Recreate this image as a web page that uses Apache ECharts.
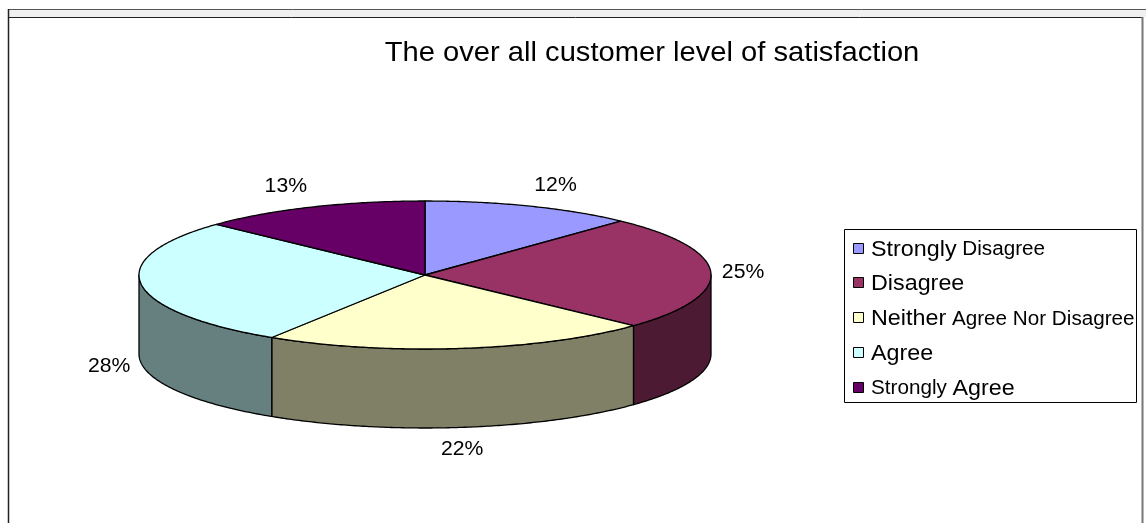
<!DOCTYPE html>
<html>
<head>
<meta charset="utf-8">
<script src="https://cdn.jsdelivr.net/npm/echarts@6/dist/echarts.min.js"></script>
<style>
  html, body { margin: 0; padding: 0; background: #ffffff; }
  #chart { width: 1146px; height: 523px; }
</style>
</head>
<body>
<div id="chart"></div>
<script>
// ---- data ----
const titleText = 'The over all customer level of satisfaction';
const categories = ['Strongly Disagree', 'Disagree', 'Neither Agree Nor Disagree', 'Agree', 'Strongly Agree'];
const values = [12, 25, 22, 28, 13];
// legend text runs: [word(s), size class]
const legendRuns = [
  [['Strongly', 'b'], ['Disagree', 's']],
  [['Disagree', 'b']],
  [['Neither', 'b'], ['Agree Nor Disagree', 's']],
  [['Agree', 'b']],
  [['Strongly', 's'], ['Agree', 'b']]
];
const topColors = ['#9999FF', '#993366', '#FFFFCC', '#CCFFFF', '#660066'];
const sideColors = ['#4D4D80', '#4D1A33', '#808066', '#668080', '#330033'];

// ---- geometry / style ----
const FONT = "'Liberation Sans', Arial, sans-serif";
const SX = 1.06;          // slight horizontal stretch of the reference text
const cx = 425, cy = 275, rx = 286, ry = 74, depth = 79;
const total = values.reduce((a, b) => a + b, 0);

function renderItem(params, api) {
  const i = params.dataIndex;
  let before = 0;
  for (let k = 0; k < i; k++) before += values[k];
  const v = api.value(1);
  const a0 = before / total * Math.PI * 2;
  const a1 = (before + v) / total * Math.PI * 2;
  const pt = (t, dy) => [cx + rx * Math.sin(t), cy - ry * Math.cos(t) + (dy || 0)];
  const children = [];

  // front side wall (visible where the rim faces the viewer)
  const s = Math.max(a0, Math.PI / 2), e = Math.min(a1, Math.PI * 1.5);
  if (e > s) {
    const n = Math.max(2, Math.ceil((e - s) / 0.01));
    const pts = [];
    for (let j = 0; j <= n; j++) pts.push(pt(s + (e - s) * j / n));
    for (let j = n; j >= 0; j--) pts.push(pt(s + (e - s) * j / n, depth));
    children.push({
      type: 'polygon', shape: { points: pts },
      style: { fill: sideColors[i], stroke: '#000', lineWidth: 1.3, lineJoin: 'round' }
    });
  }

  // top face
  const n2 = Math.max(2, Math.ceil((a1 - a0) / 0.01));
  const tp = [[cx, cy]];
  for (let j = 0; j <= n2; j++) tp.push(pt(a0 + (a1 - a0) * j / n2));
  children.push({
    type: 'polygon', shape: { points: tp },
    style: { fill: topColors[i], stroke: '#000', lineWidth: 1.3, lineJoin: 'round' }
  });

  // percentage label
  const m = (a0 + a1) / 2;
  const sn = Math.sin(m), cs = Math.cos(m);
  const lx = cx + (rx + 11) * sn;
  const ly = cy - (ry + 22) * cs + (cs < 0 ? depth : 0);
  const align = Math.abs(sn) < 0.3 ? 'center' : (sn > 0 ? 'left' : 'right');
  children.push({
    type: 'text', x: lx, y: ly, scaleX: SX,
    style: {
      text: Math.round(v / total * 100) + '%',
      fontFamily: FONT, fontSize: 20, fill: '#000',
      align: align, verticalAlign: 'middle'
    }
  });
  return { type: 'group', children: children };
}

// legend + frame as graphic elements
const graphics = [
  { type: 'line', shape: { x1: 8, y1: 9.5, x2: 1146, y2: 9.5 }, style: { stroke: '#555', lineWidth: 1 } },
  { type: 'rect', shape: { x: 9, y: 10, width: 1137, height: 7 }, style: { fill: '#f0f0f0' }, silent: true },
  { type: 'line', shape: { x1: 8, y1: 17.5, x2: 1143, y2: 17.5 }, style: { stroke: '#222', lineWidth: 1 } },
  { type: 'line', shape: { x1: 8.5, y1: 9, x2: 8.5, y2: 523 }, style: { stroke: '#222', lineWidth: 1.5 } },
  { type: 'line', shape: { x1: 1142.5, y1: 17, x2: 1142.5, y2: 523 }, style: { stroke: '#777', lineWidth: 2 } },
  {
    type: 'text', x: 652, y: 53, scaleX: SX,
    style: { text: titleText, fontFamily: FONT, fontSize: 27.5, fill: '#000', align: 'center', verticalAlign: 'middle' }
  },
  { type: 'rect', shape: { x: 844.5, y: 229.5, width: 292, height: 173 }, style: { fill: '#fff', stroke: '#000', lineWidth: 1 } }
];
const legendTop = 248.5, legendStep = 34.9;
categories.forEach((c, i) => {
  const y = legendTop + i * legendStep;
  graphics.push({
    type: 'rect', shape: { x: 853.5, y: Math.round(y) - 5.5, width: 10, height: 10 },
    style: { fill: topColors[i], stroke: '#000', lineWidth: 1 }
  });
  const txt = legendRuns[i].map(r => '{' + r[1] + '|' + r[0] + '}').join(' ');
  graphics.push({
    type: 'text', x: 871, y: y + 1, scaleX: SX,
    style: {
      text: txt, fontFamily: FONT, fontSize: 19.5, fill: '#000', align: 'left', verticalAlign: 'middle',
      rich: {
        b: { fontFamily: FONT, fontSize: 22, fill: '#000' },
        s: { fontFamily: FONT, fontSize: 19.5, fill: '#000' }
      }
    }
  });
});

const chart = echarts.init(document.getElementById('chart'), null, { renderer: 'canvas' });
chart.setOption({
  backgroundColor: '#ffffff',
  animation: false,
  graphic: graphics,
  series: [{
    type: 'custom',
    coordinateSystem: 'none',
    name: 'satisfaction',
    data: values.map((v, i) => ({ name: categories[i], value: [i, v] })),
    renderItem: renderItem
  }]
});
</script>
</body>
</html>
